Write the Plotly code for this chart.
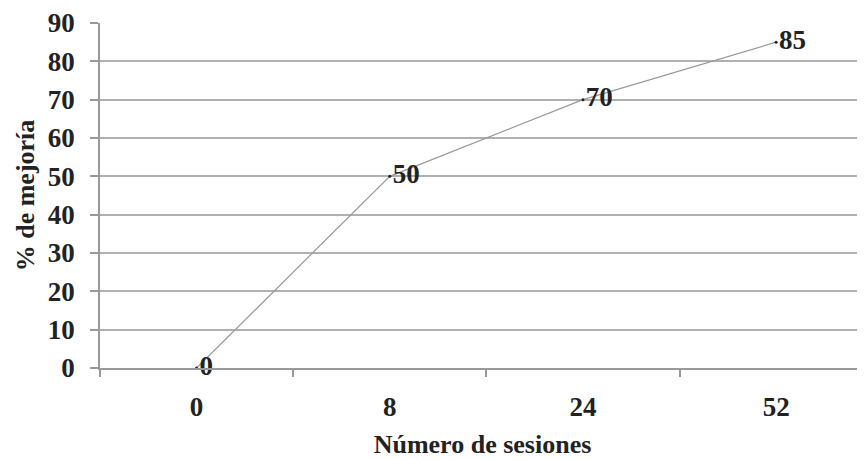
import plotly.graph_objects as go

sessions = ["0", "8", "24", "52"]
improvement = [0, 50, 70, 85]
y_ticks = [0, 10, 20, 30, 40, 50, 60, 70, 80, 90]

font_family = "Liberation Serif"
bold = dict(family=font_family, size=27, color="#222222", weight="bold")
title_font = dict(family=font_family, size=26, color="#222222", weight="bold")

fig = go.Figure()
fig.add_trace(go.Scatter(
    x=sessions, y=improvement,
    mode="lines+markers+text",
    line=dict(color="#999999", width=1.2),
    marker=dict(color="#222222", size=3),
    text=[str(v) for v in improvement],
    textposition="middle right",
    textfont=bold,
    cliponaxis=False,
    showlegend=False,
))

fig.update_layout(
    width=857, height=451,
    margin=dict(l=92, r=0, t=15, b=91),
    paper_bgcolor="white", plot_bgcolor="white",
    font=dict(family=font_family, color="#222222"),
)
fig.update_xaxes(
    type="category",
    range=[-0.5, 3.46],
    automargin=False,
    showgrid=False,
    showline=True, linecolor="#999999", linewidth=1.5,
    ticks="outside", tickson="boundaries", ticklen=7, tickcolor="#999999", tickwidth=1.5,
    tickfont=bold, ticklabelstandoff=14,
    title=dict(text="Número de sesiones", font=title_font, standoff=15),
)
fig.update_yaxes(
    range=[0, 90],
    automargin=False,
    tickvals=y_ticks,
    showgrid=True, gridcolor="#b0b0b0", gridwidth=1.5,
    zeroline=False,
    showline=True, linecolor="#999999", linewidth=1.5,
    ticks="outside", ticklen=8, tickcolor="#999999", tickwidth=1.5,
    tickfont=bold, ticklabelstandoff=10,
    title=dict(text="% de mejoría", font=title_font, standoff=6),
)

fig.write_html("out.html")
